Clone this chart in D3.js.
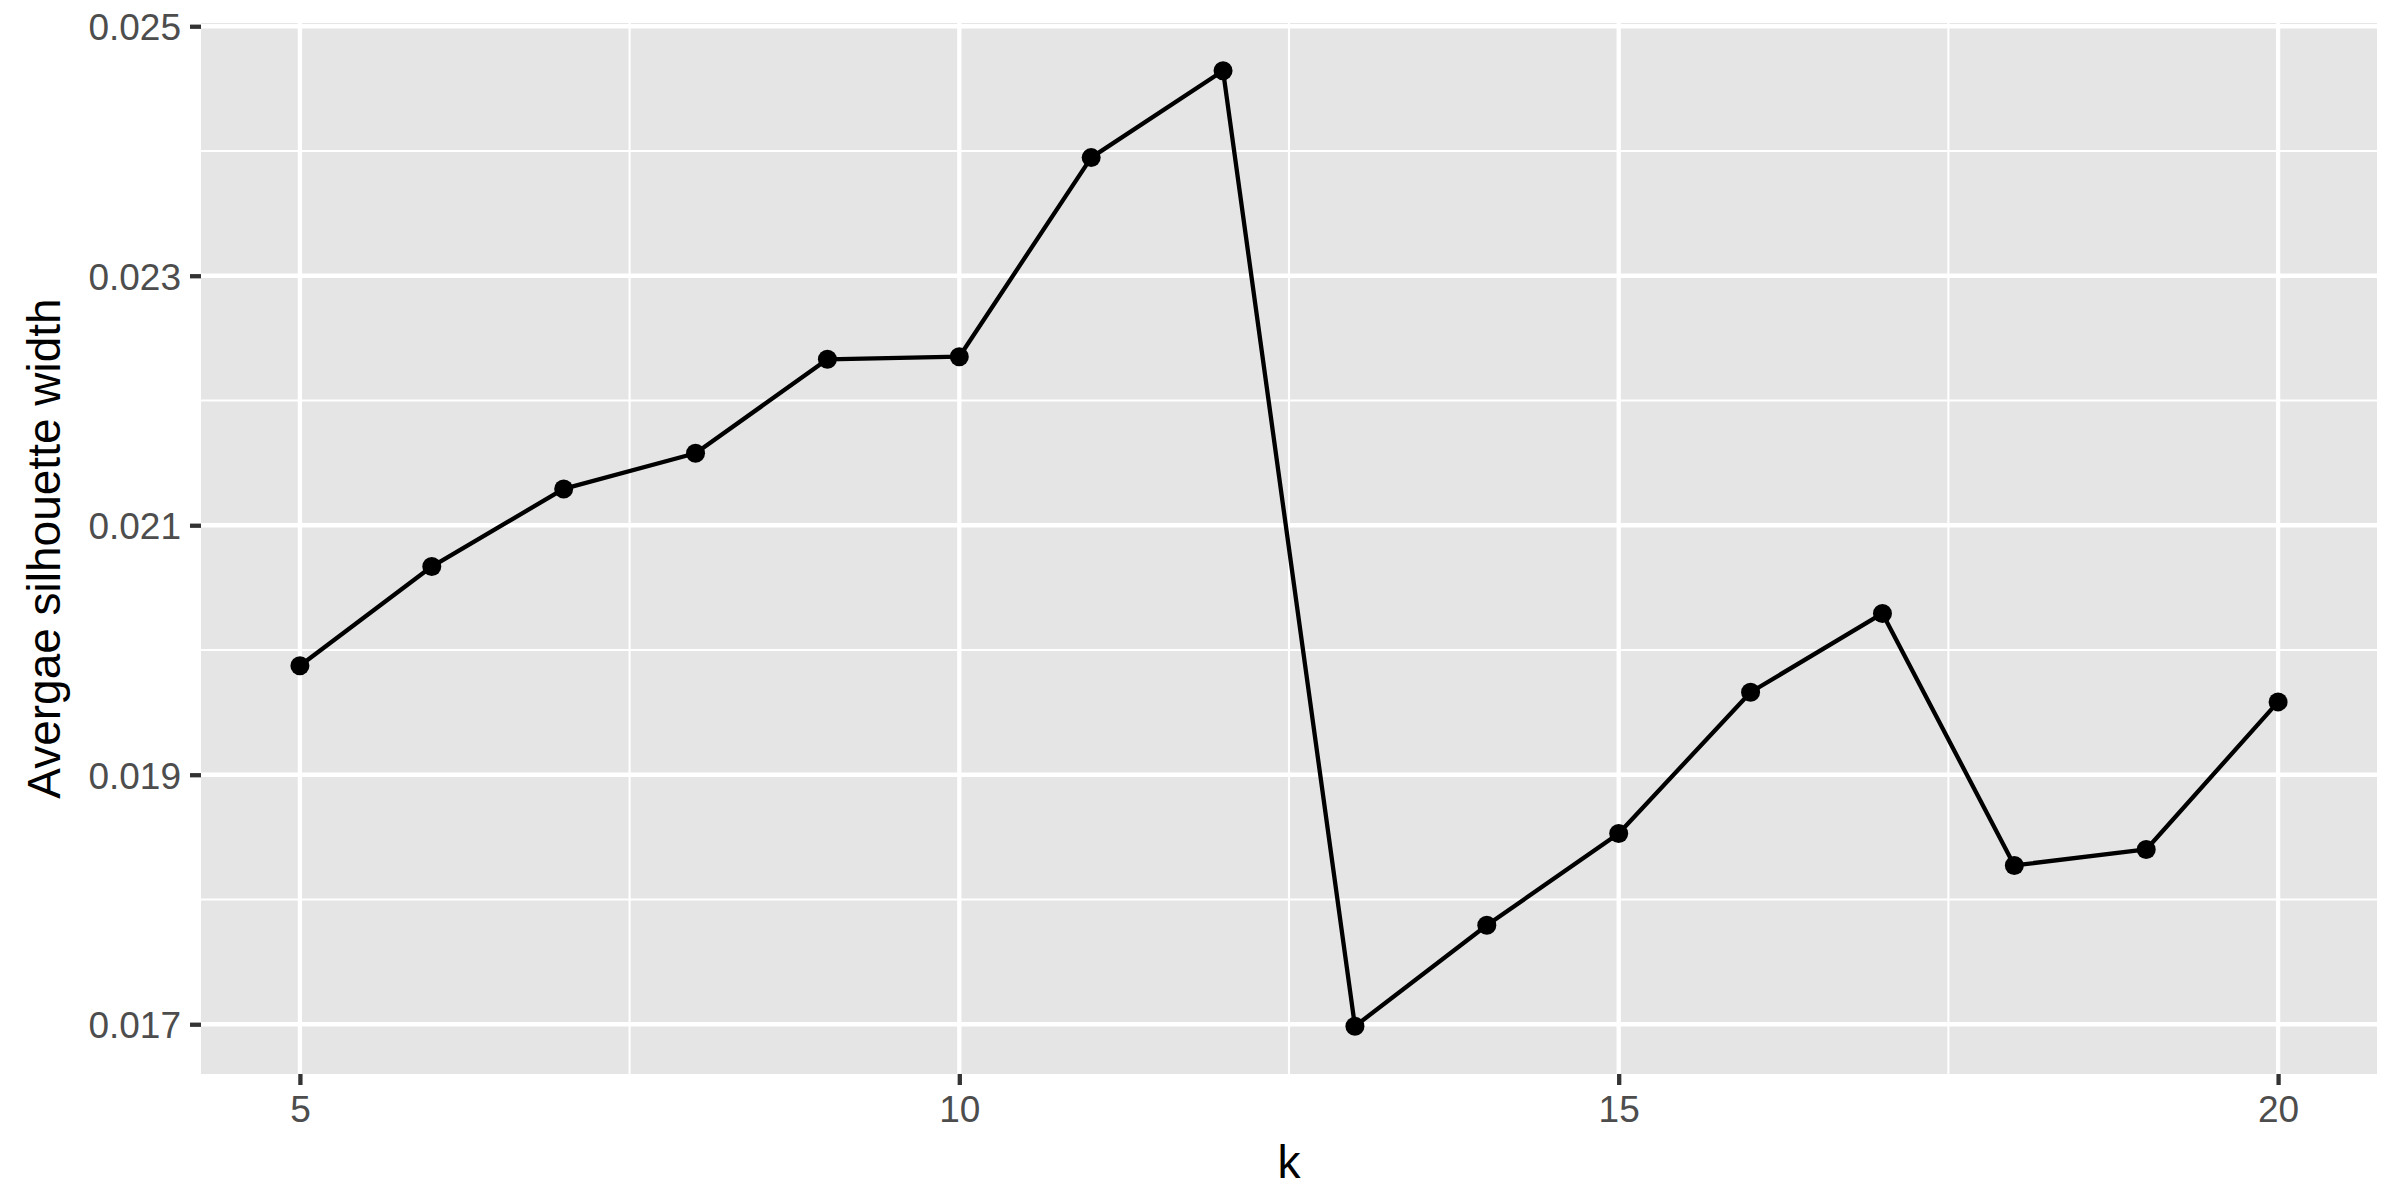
<!DOCTYPE html>
<html>
<head>
<meta charset="utf-8">
<script src="https://cdn.jsdelivr.net/npm/d3@7"></script>
<style>
  html, body { margin: 0; padding: 0; background: #fff; }
  svg { display: block; font-family: "Liberation Sans", Arial, sans-serif; }
</style>
</head>
<body>
<svg id="chart" width="2400" height="1200"></svg>
<script>
// Silhouette width by number of clusters
const kValues = [5, 6, 7, 8, 9, 10, 11, 12, 13, 14, 15, 16, 17, 18, 19, 20];
const silhouette = [
  0.019874, 0.020669, 0.021291, 0.021577, 0.022330, 0.022351, 0.023947, 0.024643,
  0.016984, 0.017793, 0.018529, 0.019661, 0.020293, 0.018273, 0.018401, 0.019584
];
const xTicks = [5, 10, 15, 20];
const xMinor = [7.5, 12.5, 17.5];
const yTicks = [0.017, 0.019, 0.021, 0.023, 0.025];
const yMinor = [0.018, 0.020, 0.022, 0.024];

const width = 2400, height = 1200;
const panel = { left: 201, right: 2377, top: 23, bottom: 1074 };

const data = kValues.map((k, i) => ({ k, v: silhouette[i] }));

// ggplot style 5% expansion on both sides
function expand(ext) {
  const pad = (ext[1] - ext[0]) * 0.05;
  return [ext[0] - pad, ext[1] + pad];
}

const xScale = d3.scaleLinear()
  .domain(expand(d3.extent(kValues)))
  .range([panel.left, panel.right]);

const yScale = d3.scaleLinear()
  .domain(expand(d3.extent(silhouette)))
  .range([panel.bottom, panel.top]);

const svg = d3.select("#chart");

// Panel background
svg.append("rect")
  .attr("x", panel.left)
  .attr("y", panel.top)
  .attr("width", panel.right - panel.left)
  .attr("height", panel.bottom - panel.top)
  .attr("fill", "#E5E5E5");

const grid = svg.append("g").attr("class", "grid");

// Minor grid lines
grid.selectAll(".minor-x")
  .data(xMinor)
  .join("line")
  .attr("x1", d => xScale(d)).attr("x2", d => xScale(d))
  .attr("y1", panel.top).attr("y2", panel.bottom)
  .attr("stroke", "#fff").attr("stroke-width", 2.1);

grid.selectAll(".minor-y")
  .data(yMinor)
  .join("line")
  .attr("x1", panel.left).attr("x2", panel.right)
  .attr("y1", d => yScale(d)).attr("y2", d => yScale(d))
  .attr("stroke", "#fff").attr("stroke-width", 2.1);

// Major grid lines
grid.selectAll(".major-x")
  .data(xTicks)
  .join("line")
  .attr("x1", d => xScale(d)).attr("x2", d => xScale(d))
  .attr("y1", panel.top).attr("y2", panel.bottom)
  .attr("stroke", "#fff").attr("stroke-width", 4.3);

grid.selectAll(".major-y")
  .data(yTicks)
  .join("line")
  .attr("x1", panel.left).attr("x2", panel.right)
  .attr("y1", d => yScale(d)).attr("y2", d => yScale(d))
  .attr("stroke", "#fff").attr("stroke-width", 4.3);

// Clip marks to the panel
svg.append("clipPath")
  .attr("id", "panel-clip")
  .append("rect")
  .attr("x", panel.left)
  .attr("y", panel.top)
  .attr("width", panel.right - panel.left)
  .attr("height", panel.bottom - panel.top);

const marks = svg.append("g").attr("clip-path", "url(#panel-clip)");

const line = d3.line()
  .x(d => xScale(d.k))
  .y(d => yScale(d.v));

marks.append("path")
  .datum(data)
  .attr("d", line)
  .attr("fill", "none")
  .attr("stroke", "#000")
  .attr("stroke-width", 4.3)
  .attr("stroke-linejoin", "round");

marks.selectAll(".pt")
  .data(data)
  .join("circle")
  .attr("class", "pt")
  .attr("cx", d => xScale(d.k))
  .attr("cy", d => yScale(d.v))
  .attr("r", 9.5)
  .attr("fill", "#000");

// Axes, ggplot look: grey ticks, no domain line
const xAxis = svg.append("g")
  .attr("transform", `translate(0, ${panel.bottom})`)
  .call(d3.axisBottom(xScale).tickValues(xTicks).tickSize(11).tickPadding(10).tickFormat(d3.format("d")));

const yAxis = svg.append("g")
  .attr("transform", `translate(${panel.left}, 0)`)
  .call(d3.axisLeft(yScale).tickValues(yTicks).tickSize(11).tickPadding(9).tickFormat(d3.format(".3f")));

[xAxis, yAxis].forEach(ax => {
  ax.select(".domain").remove();
  ax.selectAll(".tick line")
    .attr("stroke", "#333333")
    .attr("stroke-width", 4.3);
  ax.selectAll(".tick text")
    .attr("fill", "#4D4D4D")
    .style("font-size", "37px")
    .style("font-family", "'Liberation Sans', Arial, sans-serif");
});

xAxis.selectAll(".tick text")
  .attr("y", 48)
  .attr("dy", null);

yAxis.selectAll(".tick text")
  .attr("dy", "0.36em");

// Axis titles
svg.append("text")
  .attr("x", (panel.left + panel.right) / 2)
  .attr("y", 1178)
  .attr("text-anchor", "middle")
  .style("font-size", "46px")
  .attr("fill", "#000")
  .text("k");

const yMid = (panel.top + panel.bottom) / 2;
svg.append("text")
  .attr("x", 60)
  .attr("y", yMid)
  .attr("text-anchor", "middle")
  .attr("transform", `rotate(-90, 60, ${yMid})`)
  .style("font-size", "46px")
  .attr("fill", "#000")
  .text("Avergae silhouette width");
</script>
</body>
</html>
